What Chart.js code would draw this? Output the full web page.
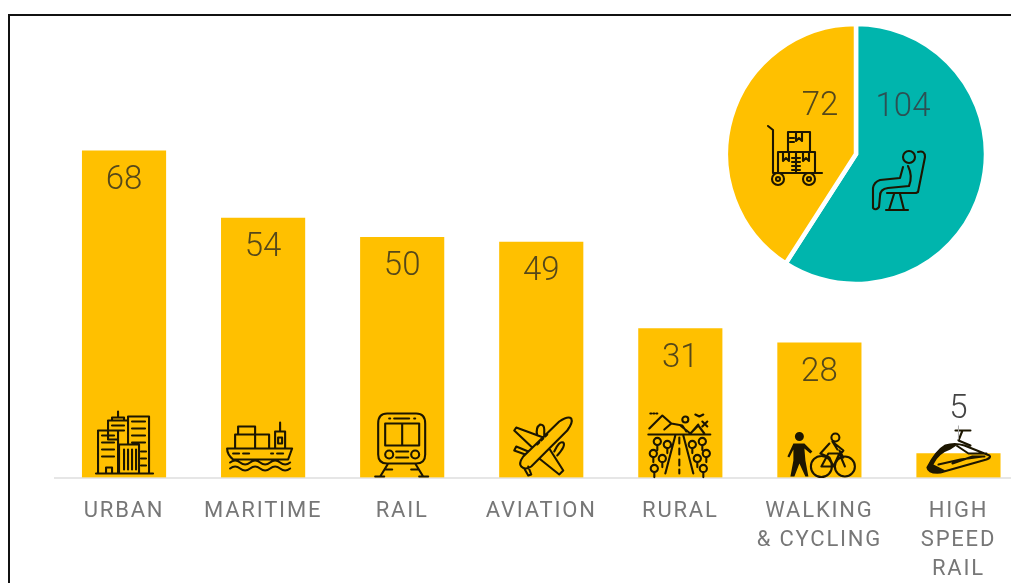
<!DOCTYPE html>
<html>
<head>
<meta charset="utf-8">
<script src="https://cdn.jsdelivr.net/npm/chart.js"></script>
<style>
html, body { margin: 0; height: 100%; background: #fff; overflow: hidden; }
#frame { position: absolute; left: 8px; top: 14px; width: 1100px; height: 700px; border: 2px solid #111; }
#bars { position: absolute; left: 0; top: 0; }
#pie { position: absolute; left: 720px; top: 18px; }
</style>
</head>
<body>
<div id="frame"></div>
<canvas id="bars" width="1028" height="640"></canvas>
<canvas id="pie" width="272" height="272"></canvas>
<script>
const categories = ['URBAN', 'MARITIME', 'RAIL', 'AVIATION', 'RURAL', ['WALKING', '& CYCLING'], ['HIGH', 'SPEED', 'RAIL']]
const projects = [68, 54, 50, 49, 31, 28, 5]
const splitLabels = ['Passenger', 'Freight']
const splitValues = [104, 72]

const YELLOW = '#ffc000'
const TEAL = '#00b5ad'
const INK = '#1c1600'
const FONT = 'Roboto, sans-serif'

// small helpers for the pictograms, everything in px around the anchor point
const circle = (x, y, r) => `M${x - r} ${y}a${r} ${r} 0 1 0 ${2 * r} 0a${r} ${r} 0 1 0 ${-2 * r} 0`
const dashes = (x, y, w, rows, gap) => {
	let d = ''
	for (let i = 0; i < rows; i++) d += `M${x} ${y + i * gap}h${w}`
	return d
}
const tree = (x, y) => circle(x, y, 3.6) + `M${x} ${y + 3.6}v5`

const ICONS = [
	// city blocks
	'M-28 -4H29' +
	'M-26 -4V-47H-6V-4M-6 -38H-16V-57H4V-33' +
	'M-12 -57V-60H0V-57M-6 -60V-66' +
	'M4 -33V-61H25V-4' +
	'M-5 -4V-33H15V-4M0 -28V-8M4 -28V-8M8 -28V-8M12 -28V-8' +
	'M-18 -4V-10H-12V-4' +
	dashes(-22, -42, 12, 4, 7) + dashes(8, -56, 13, 4, 7) + dashes(17, -26, 5, 3, 7) + dashes(-12, -52, 12, 2, 5),
	// container ship
	'M-36 -29H29L25 -18H-30Q-36 -23 -36 -29' +
	'M-28 -29V-43H-8V-29M-25 -43V-51H-8V-43M-8 -29V-43H6V-29' +
	'M12 -29V-46H22V-29M17 -46V-55M15 -40H19V-34H15Z' +
	'M-30 -24H-24M-20 -24H-14M8 -24H10M14 -24H20' +
	'M-33 -15q5 -4 10 0t10 0t10 0t10 0t10 0t10 0' +
	'M-33 -9q5 -4 10 0t10 0t10 0t10 0t10 0t10 0',
	// front of a train
	'M-15 -64H14Q23 -64 23 -54V-23Q23 -14 14 -14H-15Q-24 -14 -24 -23V-54Q-24 -64 -15 -64Z' +
	'M-17 -54H17V-32H-17ZM0 -54V-32' +
	'M-8 -59H7M-13 -59h1M12 -59h1' +
	circle(-13, -23, 4) + circle(13, -23, 4) +
	'M-6 -26H6M-6 -20H6' +
	'M-14 -14L-22 -1M13 -14L21 -1M-27 -1H-18M17 -1H26M-17 -8H-10M9 -8H16',
	// airliner
	'M18 -56Q27 -62 30 -59Q32 -55 26 -47L-10 -11Q-16 -7 -20 -11Q-23 -14 -18 -21Z' +
	'M2 -40L-25 -50L-27 -47L-9 -30' +
	'M8 -29L22 -7L18 -3L-2 -19' +
	'M-16 -23L-27 -27L-25 -31L-13 -26' +
	'M-13 -11L-10 -3L-13 -2L-17 -9' +
	'M-4 -42Q-6 -50 -1 -53Q3 -53 3 -48L3 -42' +
	'M13 -26Q18 -37 22 -35Q25 -32 16 -22' +
	'M-4 -33l2 -2M0 -37l2 -2M4 -41l2 -2',
	// road through the countryside
	'M-32 -43H30M-5 -42L-15 -4M3 -42L13 -4M-1 -40V-34M-1 -29V-23M-1 -18V-12M-1 -8V-4' +
	'M-31 -49L-18 -62L-9 -54L-16 -48M-9 -54L2 -52L6 -46M0 -52L10 -44L18 -52L24 -44M12 -46L18 -53' +
	circle(5, -58, 3) +
	'M-30 -64h1M-27 -64h1M-24 -64h1M15 -63l4 2l4 -2M22 -56l5 5M27 -56l-5 5' +
	tree(-23, -36) + tree(-13, -33) + tree(-27, -24) + tree(-18, -19) + tree(-26, -9) +
	tree(12, -33) + tree(22, -36) + tree(17, -19) + tree(26, -24) + tree(23, -9),
	// cyclist next to a pedestrian
	circle(2, -11, 10.5) + circle(25.5, -11, 10) +
	circle(16, -40, 4) +
	'M2 -11L9 -24H20L14 -11H2M20 -24L25.5 -11M20 -27L24 -20M10 -34L1 -24L10 -20L14 -11' +
	'M14 -35L24 -27L20 -22M13 -36L18 -28',
	// high speed train
	'M-31 -10Q-22 -27 -13 -32Q-4 -35 6 -32L31 -22Q33 -20 28 -18L-18 -5Q-30 -4 -31 -10Z' +
	'M-20 -13L2 -18L24 -21M-6 -14L14 -21H26M-2 -32L10 -24H28' +
	'M-3 -47H12M4 -47L0 -37L12 -32'
]

// solid parts that read better filled than stroked
const FILLS = [
	null, null, null, null, null,
	circle(-20, -41, 4.5) + 'M-26 -34H-15L-7 -26L-9 -24L-15 -29L-14 -17L-11 -1H-14L-20 -14L-25 -1H-29L-26 -17L-26 -28L-30 -20L-32 -21Z',
	'M-31 -10Q-26 -24 -13 -32Q-6 -35 -2 -32L-8 -28Q-20 -24 -25 -13L-13 -7Q-28 -2 -31 -10Z',
]

const LUGGAGE = 'M-88 -28L-83 -24V19H-34M-83 19' +
	'M-78 -2H-41V19H-78ZM-68 -22H-46V-2H-68ZM-60 -2V19M-64 4h8M-64 8h8M-64 12h8M-64 16h8' +
	'M-73 -2V7L-70 4L-67 7V-2M-53 -2V7L-50 4L-47 7V-2M-60 -22V-13L-57 -16L-54 -13V-22M-66 -16h4M-66 -12h4' +
	circle(-78, 25, 6) + circle(-47, 25, 6) + circle(-78, 25, 2) + circle(-47, 25, 2)

const SEAT = circle(53, 3, 6) +
	'M62 -2Q69 -4 69 3L62 38M47 13L44 24L24 26Q18 28 17 34L17 54' +
	'M52 12Q57 22 53 32L32 34Q24 35 24 42L23 53Q20 57 17 54' +
	'M31 39H60Q62 38 62 38M38 40L33 56H48L44 40M30 56H52'

const setFont = (ctx, size, weight) => {
	ctx.font = `${weight} ${size}px ${FONT}`
	ctx.textAlign = 'center'
	ctx.textBaseline = 'middle'
	ctx.letterSpacing = '0px'
}

const strokeIcon = (ctx, x, y, d, fill) => {
	ctx.save()
	ctx.translate(x, y)
	ctx.strokeStyle = INK
	ctx.fillStyle = INK
	ctx.lineWidth = 2.1
	ctx.lineJoin = 'round'
	ctx.lineCap = 'round'
	ctx.stroke(new Path2D(d))
	if (fill) ctx.fill(new Path2D(fill))
	ctx.restore()
}

const barMarks = {
	id: 'barMarks',
	beforeDraw(chart) {
		chart.ctx.letterSpacing = '1.8px'
	},
	afterDatasetsDraw(chart) {
		const ctx = chart.ctx
		chart.getDatasetMeta(0).data.forEach((bar, i) => {
			const value = projects[i]
			strokeIcon(ctx, bar.x, bar.base, ICONS[i], FILLS[i])

			ctx.save()
			setFont(ctx, 33, 300)
			// short bars cannot hold the number, it sits over the pictogram with a leader
			if (value < 10) {
				ctx.fillStyle = '#444'
				ctx.fillText(String(value), bar.x, bar.base - 68)
				ctx.strokeStyle = '#aaa'
				ctx.beginPath()
				ctx.moveTo(bar.x, bar.base - 52)
				ctx.lineTo(bar.x, bar.base - 38)
				ctx.stroke()
			} else {
				ctx.fillStyle = '#55481a'
				ctx.fillText(String(value), bar.x, bar.y + 30)
			}
			ctx.restore()
		})
	},
}

new Chart(document.getElementById('bars'), {
	type: 'bar',
	data: {
		labels: categories,
		datasets: [{
			data: projects,
			backgroundColor: YELLOW,
			barThickness: 83.5,
		}],
	},
	plugins: [barMarks],
	options: {
		responsive: false,
		animation: false,
		layout: { padding: { left: 54.5, right: 0, top: 45, bottom: 0 } },
		plugins: { legend: { display: false }, tooltip: { enabled: false } },
		scales: {
			y: { display: false, min: 0, max: 90 },
			x: {
				afterFit(scale) {
					scale.height = 162.5
					scale.paddingLeft = 0
					scale.paddingRight = 0
				},
				grid: { display: false },
				border: { color: '#e6e6e6', width: 2 },
				ticks: {
					autoSkip: false,
					maxRotation: 0,
					padding: 12,
					color: '#777',
					font: { family: FONT, size: 22, lineHeight: 1.3 },
				},
			},
		},
	},
})

const pieMarks = {
	id: 'pieMarks',
	afterDatasetsDraw(chart) {
		const ctx = chart.ctx
		const arc = chart.getDatasetMeta(0).data[0]
		const cx = arc.x
		const cy = arc.y

		ctx.save()
		setFont(ctx, 33, 300)
		ctx.fillStyle = '#2c5053'
		ctx.fillText(String(splitValues[0]), cx + 47, cy - 46)
		ctx.fillStyle = '#55481a'
		ctx.fillText(String(splitValues[1]), cx - 36, cy - 47)
		ctx.restore()

		strokeIcon(ctx, cx, cy, LUGGAGE)
		strokeIcon(ctx, cx, cy, SEAT)
	},
}

new Chart(document.getElementById('pie'), {
	type: 'pie',
	data: {
		labels: splitLabels,
		datasets: [{
			data: splitValues,
			backgroundColor: [TEAL, YELLOW],
			borderColor: '#fff',
			borderWidth: 4.5,
			borderJoinStyle: 'miter',
		}],
	},
	plugins: [pieMarks],
	options: {
		responsive: false,
		animation: false,
		radius: 130,
		plugins: { legend: { display: false }, tooltip: { enabled: false } },
	},
})
</script>
</body>
</html>
